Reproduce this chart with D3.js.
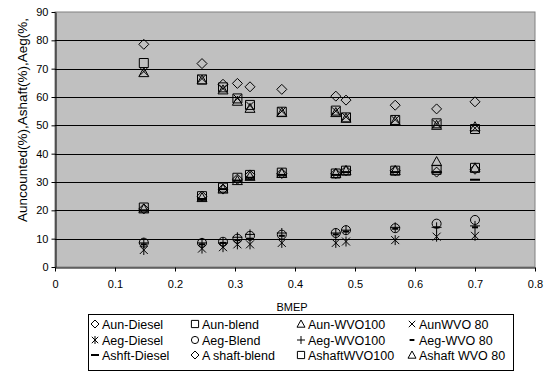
<!DOCTYPE html>
<html>
<head>
<meta charset="utf-8">
<script src="https://cdn.jsdelivr.net/npm/d3@7"></script>
<style>
  body { margin: 0; background: #fff; }
  svg { font-family: "Liberation Sans", Arial, sans-serif; }
</style>
</head>
<body>
<div id="chart"></div>
<script>
// BMEP points shared by all series
const bmep = [0.148, 0.245, 0.28, 0.304, 0.325, 0.378, 0.468, 0.485, 0.567, 0.636, 0.70];

const aunDiesel   = [78.6, 71.8, 64.5, 64.8, 63.6, 62.7, 60.3, 58.9, 57.1, 55.8, 58.3];
const aunBlend    = [72, 66.2, 63.4, 59.5, 57.2, 54.8, 55.2, 52.8, 51.9, 50.7, 48.7];
const aunWVO100   = [68.6, 66, 62.5, 58.5, 56, 54.5, 54.5, 52.5, 51.5, 50, 49.5];
const aunWVO80    = [69, 66.5, 63, 59.5, 57, 55, 55, 53, 52, 50.5, 49];
const aegDiesel   = [6, 6.5, 7, 8, 8, 8.5, 8.5, 9, 9.5, 10.7, 11];
const aegBlend    = [8.6, 8.5, 8.9, 10, 11, 11.4, 12, 13, 13.7, 15.3, 16.6];
const aegWVO100   = [8.5, 8.5, 8.5, 10.5, 11.5, 12, 12, 13, 14, 14, 14.5];
const aegWVO80    = [8, 8, 8.5, 9.5, 10, 11, 11.5, 12.5, 13.5, 14, 14];
const ashftDiesel = [20, 24, 27.5, 30.5, 31.5, 32.5, 32.5, 33.5, 33.5, 33.5, 30.8];
const ashaftBlend = [20.5, 25, 27.5, 31, 32.5, 33, 33, 34, 34, 33.5, 34.5];
const ashaftWVO100 = [21, 25, 28, 31.5, 32.5, 33.3, 33, 34, 34, 34.3, 35];
const ashaftWVO80 = [20.5, 24.5, 27.5, 30.5, 32, 33, 33, 34, 34, 37.2, 35];

const yTicks = [0, 10, 20, 30, 40, 50, 60, 70, 80, 90];
const xTicks = [0, 0.1, 0.2, 0.3, 0.4, 0.5, 0.6, 0.7, 0.8];

// marker shapes, drawn around 0,0
const shapes = {
  diamond: "M0,-5L5,0L0,5L-5,0Z",
  square: "M-4.5,-4.5H4.5V4.5H-4.5Z",
  triangle: "M0,-5L5,4L-5,4Z",
  cross: "M-4,-4L4,4M-4,4L4,-4",
  star: "M-4,-4L4,4M-4,4L4,-4M0,-5V5",
  circle: "M4.5,0A4.5,4.5 0 1,1 -4.5,0A4.5,4.5 0 1,1 4.5,0Z",
  plus: "M-5,0H5M0,-5V5",
  shortDash: "M-3,0H3",
  longDash: "M-5,0H5"
};

const series = [
  {name: "Aun-Diesel", values: aunDiesel, shape: "diamond"},
  {name: "Aun-blend", values: aunBlend, shape: "square"},
  {name: "Aun-WVO100", values: aunWVO100, shape: "triangle"},
  {name: "AunWVO 80", values: aunWVO80, shape: "cross"},
  {name: "Aeg-Diesel", values: aegDiesel, shape: "star"},
  {name: "Aeg-Blend", values: aegBlend, shape: "circle"},
  {name: "Aeg-WVO100", values: aegWVO100, shape: "plus"},
  {name: "Aeg-WVO 80", values: aegWVO80, shape: "shortDash", width: 2},
  {name: "Ashft-Diesel", values: ashftDiesel, shape: "longDash", width: 2},
  {name: "A shaft-blend", values: ashaftBlend, shape: "diamond"},
  {name: "AshaftWVO100", values: ashaftWVO100, shape: "square"},
  {name: "Ashaft WVO 80", values: ashaftWVO80, shape: "triangle"}
];

const W = 548, H = 373;
const plot = {left: 55, right: 535, top: 12, bottom: 267};

const svg = d3.select("#chart").append("svg")
  .attr("width", W).attr("height", H);

const x = d3.scaleLinear().domain([0, 0.8]).range([plot.left, plot.right]);
const y = d3.scaleLinear().domain([0, 90]).range([plot.bottom, plot.top]);

svg.append("rect")
  .attr("x", plot.left).attr("y", plot.top)
  .attr("width", plot.right - plot.left).attr("height", plot.bottom - plot.top)
  .attr("fill", "#c0c0c0").attr("stroke", "#808080");

// gridlines
svg.append("g").selectAll("line")
  .data(yTicks.filter(d => d > 0 && d < 90))
  .enter().append("line")
  .attr("x1", plot.left).attr("x2", plot.right)
  .attr("y1", d => Math.round(y(d)) + 0.5).attr("y2", d => Math.round(y(d)) + 0.5)
  .attr("stroke", "#000");

const yAxis = svg.append("g")
  .attr("transform", `translate(${plot.left + 0.5},0)`)
  .call(d3.axisLeft(y).tickValues(yTicks).tickSize(4).tickSizeOuter(0));
const xAxis = svg.append("g")
  .attr("transform", `translate(0,${plot.bottom + 0.5})`)
  .call(d3.axisBottom(x).tickValues(xTicks).tickFormat(d => d === 0 ? "0" : d3.format(".1f")(d)).tickSize(4).tickSizeOuter(0));

[yAxis, xAxis].forEach(a => {
  a.selectAll("path, line").attr("stroke", "#000");
  a.selectAll("text").attr("font-size", 11).attr("fill", "#000")
    .attr("font-family", "'Liberation Sans', Arial, sans-serif");
});
xAxis.selectAll("text").attr("dy", "1.2em");

// markers
series.forEach(s => {
  svg.append("g").selectAll("path")
    .data(s.values)
    .enter().append("path")
    .attr("transform", (d, i) => `translate(${x(bmep[i])},${y(d)})`)
    .attr("d", shapes[s.shape])
    .attr("fill", "none")
    .attr("stroke", "#000")
    .attr("stroke-width", s.width || 1);
});

// axis titles
svg.append("text")
  .attr("x", 292).attr("y", 311)
  .attr("text-anchor", "middle").attr("font-size", 11)
  .text("BMEP");

svg.append("text")
  .attr("transform", "translate(27,222) rotate(-90)")
  .attr("font-size", 13.5)
  .text("Auncounted(%),Ashaft(%),Aeg(%,");

// legend
const legend = svg.append("g");
legend.append("rect")
  .attr("x", 88.5).attr("y", 314.5).attr("width", 425).attr("height", 56)
  .attr("fill", "#fff").attr("stroke", "#000");

const colX = [95, 195, 301, 412];
const rowY = [324, 340, 355];
series.forEach((s, i) => {
  const cx = colX[i % 4], cy = rowY[Math.floor(i / 4)];
  legend.append("path")
    .attr("transform", `translate(${cx},${cy}) scale(0.8)`)
    .attr("d", shapes[s.shape])
    .attr("fill", "none").attr("stroke", "#000")
    .attr("stroke-width", (s.width || 1) / 0.8);
  legend.append("text")
    .attr("x", cx + 7).attr("y", cy + 4.5)
    .attr("font-size", 12.5)
    .text(s.name);
});
</script>
</body>
</html>
